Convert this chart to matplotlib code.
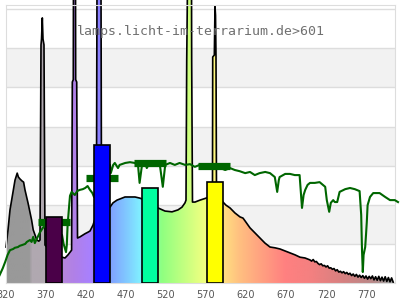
import numpy as np
import matplotlib
matplotlib.use('Agg')
import matplotlib.pyplot as plt
from matplotlib.colors import LinearSegmentedColormap, Normalize
from matplotlib.patches import Polygon

# lamp spectrum (nm, relative value)
spec_nm = [320, 322.5, 325, 328.75, 331.25, 334, 335.5, 337.5, 340, 342, 343.75, 347.5,
           352, 354, 358.5, 361, 362.5, 363.75, 364.4, 365.4, 366.25, 367.5, 368.75,
           375, 390, 393.75, 397.5, 402, 402.9, 404.1, 404.3, 406.9, 407.1, 408.4, 409.4,
           412.5, 418.75, 422.5, 425, 428.75, 430, 433, 433.75, 438.75, 439.4,
           450, 453.75, 458.75, 462.5, 468.75, 475, 481.25, 487.5, 490, 500, 510,
           518.75, 527.5, 535, 540, 543.75, 545, 545.9, 546.9, 551.9, 552.1, 553.1,
           556.25, 562.5, 570, 575, 578.1, 578.4, 580.4, 581, 581.25, 581.9, 582.5, 583.1,
           590, 591.25, 595, 600, 606.25, 612.5, 616.25, 618.75, 625, 631.25, 637.5,
           643.75, 650, 656.25, 662.5, 668.75, 675, 681.25, 687.5, 693.75,
           700, 702, 704, 706, 708, 710, 712, 714, 716, 718, 720, 722, 724, 726, 728,
           730, 732, 734, 736, 738, 740, 742, 744, 746, 748, 750, 752, 754, 756, 758,
           760, 762, 764, 766, 768, 770, 772, 774, 776, 778, 780, 782, 784, 786, 788,
           790, 792, 794, 796, 798, 800, 802, 804]
spec_val = [0.92, 1.36, 1.87, 2.33, 2.63, 2.81, 2.71, 2.66, 2.61, 2.58, 2.38, 2.05,
            1.61, 1.36, 1.10, 1.07, 1.10, 6.09, 6.24, 6.78, 6.24, 6.09, 0.97,
            0.84, 0.66, 0.64, 0.72, 0.84, 5.14, 5.2, 7.7, 7.7, 5.2, 5.14, 1.15,
            1.18, 1.26, 1.30, 1.33, 1.48, 1.56, 1.74, 7.7, 7.7, 1.84,
            1.94, 2.05, 2.12, 2.15, 2.20, 2.20, 2.20, 2.17, 2.15, 2.05, 1.92,
            1.84, 1.82, 1.87, 1.94, 2.05, 2.12, 5.70, 7.7, 7.7, 5.70, 2.07,
            2.07, 2.12, 2.17, 2.22, 2.38, 5.78, 5.83, 6.85, 7.08, 6.85, 5.78, 2.38,
            2.12, 2.07, 1.99, 1.92, 1.79, 1.69, 1.66, 1.59, 1.41, 1.28, 1.15,
            1.02, 0.92, 0.90, 0.87, 0.82, 0.77, 0.72, 0.66, 0.64,
            0.59, 0.56, 0.60, 0.54, 0.55, 0.50, 0.47, 0.49, 0.44, 0.45, 0.41, 0.44, 0.38, 0.39, 0.35,
            0.37, 0.31, 0.34, 0.28, 0.30, 0.26, 0.29, 0.24, 0.27, 0.22, 0.25, 0.19, 0.23, 0.17, 0.22,
            0.15, 0.20, 0.14, 0.19, 0.12, 0.18, 0.10, 0.17, 0.11, 0.18, 0.08, 0.16, 0.07, 0.17, 0.06,
            0.15, 0.05, 0.16, 0.04, 0.14, 0.03, 0.13, 0.02]

# green curve
green_nm = [312, 316, 319, 322, 325, 329, 331, 335, 337, 340, 344, 346, 350, 352, 354, 356,
            359, 362, 366, 370, 390, 392, 395, 396, 397, 399, 400, 402, 406, 409, 412, 416,
            419, 422, 425, 428, 430, 450, 451, 454, 456, 460, 462, 469, 475, 481, 485, 487,
            490, 494, 496, 500, 506, 512, 516, 519, 525, 531, 537, 544, 550, 556, 562, 569,
            575, 581, 588, 594, 600, 606, 612, 619, 625, 631, 637, 644, 650, 656, 659, 661,
            662, 669, 675, 681, 687, 690, 692, 694, 697, 700, 706, 712, 719, 721, 724, 726,
            729, 731, 734, 737, 744, 750, 756, 762, 764, 765, 766, 767, 769, 770, 771, 772,
            775, 779, 787, 794, 800, 806, 810]
green_val = [0.20, 0.38, 0.54, 0.72, 0.84, 0.87, 0.90, 0.92, 0.95, 0.97, 1.00, 1.05, 1.10, 1.05, 1.18, 1.02,
             1.15, 1.28, 1.41, 1.48, 1.23, 1.00, 0.79, 0.97, 1.48, 1.99, 2.23, 2.33, 2.25, 2.35, 2.38, 2.40,
             2.43, 2.48, 2.38, 2.30, 2.20, 3.02, 2.81, 3.02, 3.07, 2.94, 3.02, 3.07, 3.09, 3.07, 3.02, 2.56,
             3.02, 3.07, 2.94, 3.09, 3.02, 3.07, 2.46, 3.02, 3.07, 3.02, 3.07, 3.02, 3.04, 2.97, 3.02, 2.99,
             3.02, 2.97, 2.94, 2.89, 2.94, 2.89, 2.86, 2.81, 2.84, 2.76, 2.81, 2.84, 2.81, 2.71, 2.33, 2.63,
             2.71, 2.79, 2.79, 2.76, 2.76, 1.92, 2.25, 2.38, 2.51, 2.56, 2.56, 2.58, 2.46, 2.12, 1.82, 2.05,
             2.12, 2.07, 2.07, 2.33, 2.40, 2.43, 2.40, 2.35, 1.74, 0.84, 0.28, 0.72, 0.92, 1.23, 1.56, 1.99,
             2.20, 2.30, 2.30, 2.20, 2.12, 2.12, 2.07]

# band averages (thick green)
band_lo = [360, 420, 480, 560]
band_hi = [400, 460, 520, 600]
band_val = [1.57, 2.69, 3.06, 2.99]

# colored bars
bar_nm = [380, 440.5, 499.5, 581]
bar_val = [1.68, 3.53, 2.42, 2.59]
bar_colors = ['#4a0048', '#0000ff', '#00ffa0', '#ffff00']

xticks = [320, 370, 420, 470, 520, 570, 620, 670, 720, 770]

# wavelength -> fill colour
stops = [(300, '#999999'), (349, '#999999'), (351, '#b0a8b0'), (368, '#b0a8b0'),
         (385, '#b888d8'), (405, '#b080e8'), (425, '#a880ff'), (440, '#8080ff'),
         (450, '#80a0ff'), (470, '#80c8ff'), (488, '#80f0ff'), (496, '#80ffd8'),
         (505, '#80ffa0'), (515, '#90ff80'), (545, '#c8ff80'), (568, '#f0ff80'),
         (578, '#ffff80'), (592, '#ffe080'), (612, '#ffc080'), (640, '#ffa080'),
         (670, '#ff8080'), (700, '#f58080'), (740, '#d88080'), (780, '#b88888'),
         (800, '#a0a0a0'), (810, '#a0a0a0')]
lo, hi = 300, 810
cmap = LinearSegmentedColormap.from_list(
    'wl', [((w - lo) / (hi - lo), c) for w, c in stops])

fig = plt.figure(figsize=(4, 3), dpi=100)
ax = fig.add_axes([6 / 400, 17 / 300, 389 / 400, 278 / 300])
ax.set_xlim(320, 806.25)
ax.set_ylim(0, 278 / 39.1)

for y0 in [1, 3, 5]:
    ax.axhspan(y0, y0 + 1, color='#f2f2f2', zorder=0, lw=0)
for y0 in range(1, 8):
    ax.axhline(y0, color='#dddddd', lw=1, zorder=0.5)

# spectrum fill with gradient
poly_xy = [(spec_nm[0], 0)] + list(zip(spec_nm, spec_val)) + [(spec_nm[-1], 0)]
patch = Polygon(poly_xy, closed=True, transform=ax.transData, fc='none', ec='none')
grad = np.linspace(lo, hi, 1021)[np.newaxis, :]
im = ax.imshow(grad, extent=(lo, hi, 0, 8), aspect='auto', cmap=cmap,
               norm=Normalize(lo, hi), zorder=1, interpolation='bilinear')
im.set_clip_box(fig.bbox)
im.set_clip_path(patch)
ax.set_xlim(320, 806.25)
ax.set_ylim(0, 278 / 39.1)

ax.plot(spec_nm, spec_val, color='black', lw=1.2, zorder=2, clip_on=False)
ax.plot(green_nm, green_val, color='#006600', lw=1.5, zorder=3, clip_on=False)
ax.hlines(band_val, band_lo, band_hi, color='#006600', lw=5.2, zorder=4)
ax.bar(bar_nm, bar_val, width=20, color=bar_colors, edgecolor='black', lw=1.2, zorder=5)

for s in ax.spines.values():
    s.set_color('#dddddd')
ax.set_xticks(xticks)
ax.set_xticklabels([str(t) for t in xticks], fontsize=7, color='#555555')
ax.tick_params(axis='x', length=0, pad=5)
ax.set_yticks([])

fig.text(201 / 400, 1 - 31 / 300, 'lamps.licht-im-terrarium.de>601', ha='center', va='center',
         family='DejaVu Sans Mono', fontsize=9.5, color='#707070', zorder=10)

fig.savefig('out.png', dpi=100)
